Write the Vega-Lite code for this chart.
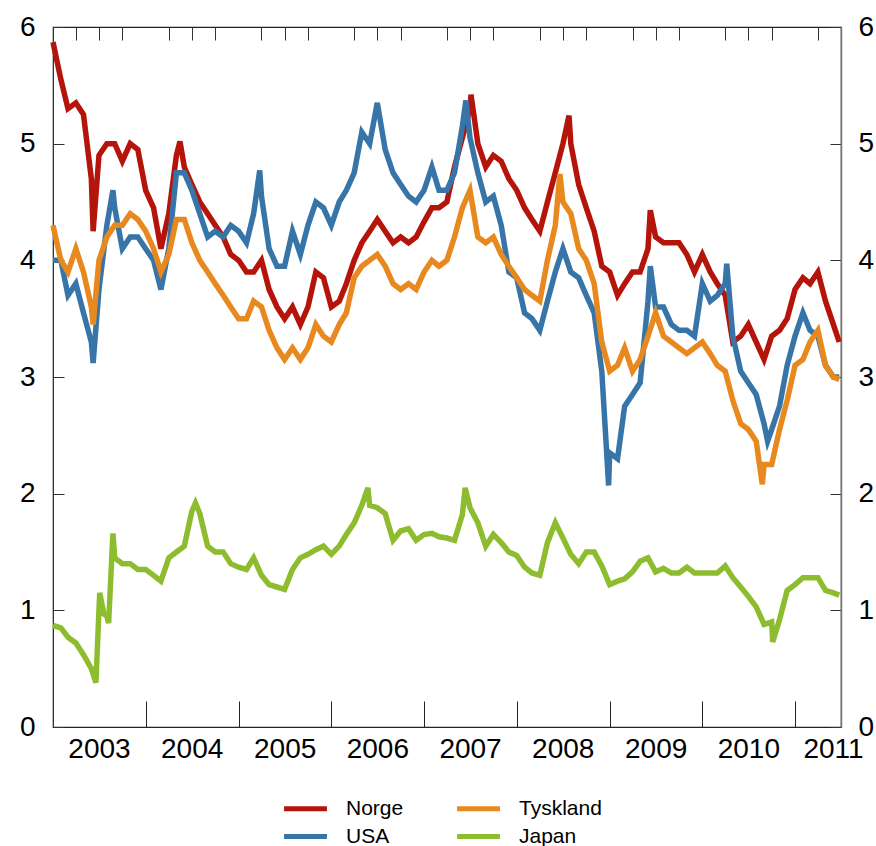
{
"$schema":"https://vega.github.io/schema/vega-lite/v6.json",
"width":788,"height":700,
"autosize":{"type":"none"},
"padding":{"left":53,"top":27,"right":35,"bottom":119},
"config":{"view":{"stroke":"#222","strokeWidth":1.2},"font":"Liberation Sans","axis":{"labelFont":"Liberation Sans","labelColor":"#000","grid":false,"title":null}},
"data":{"values":[
{"d":"2003-01-01","Norge":5.87,"USA":4.0,"Tyskland":4.3,"Japan":0.87},
{"d":"2003-02-01","Norge":5.55,"USA":4.0,"Tyskland":4.0,"Japan":0.85},
{"d":"2003-03-01","Norge":5.3,"USA":3.7,"Tyskland":3.9,"Japan":0.77},
{"d":"2003-04-01","Norge":5.35,"USA":3.8,"Tyskland":4.1,"Japan":0.72},
{"d":"2003-05-01","Norge":5.25,"USA":3.55,"Tyskland":3.9,"Japan":0.62},
{"d":"2003-06-01","Norge":4.7,"USA":3.3,"Tyskland":3.6,"Japan":0.5},
{"d":"2003-06-08","Norge":4.25,"USA":3.12,"Tyskland":3.45},
{"d":"2003-06-19","Japan":0.38},
{"d":"2003-07-01","Norge":4.9,"USA":3.75,"Tyskland":4.0,"Japan":1.0},
{"d":"2003-07-04","Japan":1.15},
{"d":"2003-07-20","Japan":0.97},
{"d":"2003-08-01","Norge":5.0,"USA":4.3,"Tyskland":4.2,"Japan":0.95},
{"d":"2003-08-08","Japan":0.89},
{"d":"2003-08-25","USA":4.6,"Japan":1.66},
{"d":"2003-09-01","Norge":5.0,"USA":4.45,"Tyskland":4.3,"Japan":1.45},
{"d":"2003-10-01","Norge":4.85,"USA":4.1,"Tyskland":4.3,"Japan":1.4},
{"d":"2003-11-01","Norge":5.0,"USA":4.2,"Tyskland":4.4,"Japan":1.4},
{"d":"2003-12-01","Norge":4.95,"USA":4.2,"Tyskland":4.35,"Japan":1.35},
{"d":"2004-01-01","Norge":4.6,"USA":4.1,"Tyskland":4.25,"Japan":1.35},
{"d":"2004-02-01","Norge":4.45,"USA":4.0,"Tyskland":4.1,"Japan":1.3},
{"d":"2004-03-01","Norge":4.1,"USA":3.75,"Tyskland":3.9,"Japan":1.25},
{"d":"2004-04-01","Norge":4.4,"USA":4.1,"Tyskland":4.05,"Japan":1.45},
{"d":"2004-05-01","Norge":4.9,"USA":4.75,"Tyskland":4.35,"Japan":1.5},
{"d":"2004-05-15","Norge":5.02},
{"d":"2004-06-01","Norge":4.8,"USA":4.75,"Tyskland":4.35,"Japan":1.55},
{"d":"2004-07-01","Norge":4.65,"USA":4.6,"Tyskland":4.15,"Japan":1.85},
{"d":"2004-07-15","Japan":1.92},
{"d":"2004-08-01","Norge":4.5,"USA":4.4,"Tyskland":4.0,"Japan":1.83},
{"d":"2004-09-01","Norge":4.4,"USA":4.2,"Tyskland":3.9,"Japan":1.55},
{"d":"2004-10-01","Norge":4.3,"USA":4.25,"Tyskland":3.8,"Japan":1.5},
{"d":"2004-11-01","Norge":4.2,"USA":4.2,"Tyskland":3.7,"Japan":1.5},
{"d":"2004-12-01","Norge":4.05,"USA":4.3,"Tyskland":3.6,"Japan":1.4},
{"d":"2005-01-01","Norge":4.0,"USA":4.25,"Tyskland":3.5,"Japan":1.37},
{"d":"2005-02-01","Norge":3.9,"USA":4.15,"Tyskland":3.5,"Japan":1.35},
{"d":"2005-03-01","Norge":3.9,"USA":4.4,"Tyskland":3.65,"Japan":1.45},
{"d":"2005-03-25","USA":4.77},
{"d":"2005-04-01","Norge":4.0,"USA":4.55,"Tyskland":3.6,"Japan":1.3},
{"d":"2005-05-01","Norge":3.75,"USA":4.1,"Tyskland":3.4,"Japan":1.22},
{"d":"2005-06-01","Norge":3.6,"USA":3.95,"Tyskland":3.25,"Japan":1.2},
{"d":"2005-07-01","Norge":3.5,"USA":3.95,"Tyskland":3.15,"Japan":1.18},
{"d":"2005-08-01","Norge":3.6,"USA":4.25,"Tyskland":3.25,"Japan":1.35},
{"d":"2005-09-01","Norge":3.45,"USA":4.05,"Tyskland":3.15,"Japan":1.45},
{"d":"2005-10-01","Norge":3.6,"USA":4.3,"Tyskland":3.25,"Japan":1.48},
{"d":"2005-11-01","Norge":3.9,"USA":4.5,"Tyskland":3.45,"Japan":1.52},
{"d":"2005-12-01","Norge":3.85,"USA":4.45,"Tyskland":3.35,"Japan":1.55},
{"d":"2006-01-01","Norge":3.6,"USA":4.3,"Tyskland":3.3,"Japan":1.48},
{"d":"2006-02-01","Norge":3.65,"USA":4.5,"Tyskland":3.45,"Japan":1.55},
{"d":"2006-03-01","Norge":3.8,"USA":4.6,"Tyskland":3.55,"Japan":1.65},
{"d":"2006-04-01","Norge":4.0,"USA":4.75,"Tyskland":3.85,"Japan":1.75},
{"d":"2006-05-01","Norge":4.15,"USA":5.1,"Tyskland":3.95,"Japan":1.9},
{"d":"2006-05-25","Japan":2.05},
{"d":"2006-06-01","Norge":4.25,"USA":5.0,"Tyskland":4.0,"Japan":1.9},
{"d":"2006-07-01","Norge":4.35,"USA":5.35,"Tyskland":4.05,"Japan":1.88},
{"d":"2006-08-01","Norge":4.25,"USA":4.95,"Tyskland":3.95,"Japan":1.83},
{"d":"2006-09-01","Norge":4.15,"USA":4.75,"Tyskland":3.8,"Japan":1.6},
{"d":"2006-10-01","Norge":4.2,"USA":4.65,"Tyskland":3.75,"Japan":1.68},
{"d":"2006-11-01","Norge":4.15,"USA":4.55,"Tyskland":3.8,"Japan":1.7},
{"d":"2006-12-01","Norge":4.2,"USA":4.5,"Tyskland":3.75,"Japan":1.6},
{"d":"2007-01-01","Norge":4.33,"USA":4.6,"Tyskland":3.9,"Japan":1.65},
{"d":"2007-02-01","Norge":4.45,"USA":4.8,"Tyskland":4.0,"Japan":1.66},
{"d":"2007-03-01","Norge":4.45,"USA":4.6,"Tyskland":3.95,"Japan":1.63},
{"d":"2007-04-01","Norge":4.5,"USA":4.6,"Tyskland":4.0,"Japan":1.62},
{"d":"2007-05-01","Norge":4.8,"USA":4.75,"Tyskland":4.2,"Japan":1.6},
{"d":"2007-06-01","Norge":5.05,"USA":5.15,"Tyskland":4.45,"Japan":1.82},
{"d":"2007-06-12","Japan":2.05},
{"d":"2007-06-15","USA":5.37},
{"d":"2007-07-01","Norge":5.3,"USA":5.05,"Tyskland":4.6,"Japan":1.88},
{"d":"2007-07-05","Norge":5.42},
{"d":"2007-08-01","Norge":5.0,"USA":4.75,"Tyskland":4.2,"Japan":1.75},
{"d":"2007-09-01","Norge":4.8,"USA":4.5,"Tyskland":4.15,"Japan":1.55},
{"d":"2007-10-01","Norge":4.9,"USA":4.55,"Tyskland":4.2,"Japan":1.65},
{"d":"2007-11-01","Norge":4.85,"USA":4.3,"Tyskland":4.05,"Japan":1.58},
{"d":"2007-12-01","Norge":4.7,"USA":3.9,"Tyskland":3.95,"Japan":1.5},
{"d":"2008-01-01","Norge":4.6,"USA":3.85,"Tyskland":3.85,"Japan":1.47},
{"d":"2008-02-01","Norge":4.45,"USA":3.55,"Tyskland":3.75,"Japan":1.37},
{"d":"2008-03-01","Norge":4.35,"USA":3.5,"Tyskland":3.7,"Japan":1.32},
{"d":"2008-04-01","Norge":4.25,"USA":3.4,"Tyskland":3.65,"Japan":1.3},
{"d":"2008-05-01","Norge":4.5,"USA":3.65,"Tyskland":4.0,"Japan":1.58},
{"d":"2008-06-01","Norge":4.75,"USA":3.9,"Tyskland":4.3,"Japan":1.75},
{"d":"2008-06-19","Tyskland":4.74},
{"d":"2008-07-01","Norge":5.0,"USA":4.1,"Tyskland":4.5,"Japan":1.62},
{"d":"2008-07-25","Norge":5.24},
{"d":"2008-08-01","Norge":5.0,"USA":3.9,"Tyskland":4.4,"Japan":1.48},
{"d":"2008-09-01","Norge":4.65,"USA":3.85,"Tyskland":4.1,"Japan":1.4},
{"d":"2008-10-01","Norge":4.45,"USA":3.7,"Tyskland":4.0,"Japan":1.5},
{"d":"2008-11-01","Norge":4.25,"USA":3.55,"Tyskland":3.8,"Japan":1.5},
{"d":"2008-12-01","Norge":3.95,"USA":3.05,"Tyskland":3.3,"Japan":1.38},
{"d":"2008-12-28","USA":2.07},
{"d":"2009-01-01","Norge":3.9,"USA":2.35,"Tyskland":3.05,"Japan":1.22},
{"d":"2009-02-01","Norge":3.7,"USA":2.3,"Tyskland":3.1,"Japan":1.25},
{"d":"2009-03-01","Norge":3.8,"USA":2.75,"Tyskland":3.25,"Japan":1.27},
{"d":"2009-04-01","Norge":3.9,"USA":2.85,"Tyskland":3.05,"Japan":1.33},
{"d":"2009-05-01","Norge":3.9,"USA":2.95,"Tyskland":3.15,"Japan":1.42},
{"d":"2009-06-01","Norge":4.1,"USA":3.65,"Tyskland":3.35,"Japan":1.45},
{"d":"2009-06-10","Norge":4.43,"USA":3.95},
{"d":"2009-07-01","Norge":4.2,"USA":3.6,"Tyskland":3.55,"Japan":1.33},
{"d":"2009-08-01","Norge":4.15,"USA":3.6,"Tyskland":3.35,"Japan":1.36},
{"d":"2009-09-01","Norge":4.15,"USA":3.45,"Tyskland":3.3,"Japan":1.32},
{"d":"2009-10-01","Norge":4.15,"USA":3.4,"Tyskland":3.25,"Japan":1.32},
{"d":"2009-11-01","Norge":4.05,"USA":3.4,"Tyskland":3.2,"Japan":1.37},
{"d":"2009-12-01","Norge":3.9,"USA":3.35,"Tyskland":3.25,"Japan":1.32},
{"d":"2010-01-01","Norge":4.05,"USA":3.8,"Tyskland":3.3,"Japan":1.32},
{"d":"2010-02-01","Norge":3.9,"USA":3.65,"Tyskland":3.2,"Japan":1.32},
{"d":"2010-03-01","Norge":3.8,"USA":3.7,"Tyskland":3.1,"Japan":1.32},
{"d":"2010-04-01","Norge":3.7,"USA":3.8,"Tyskland":3.05,"Japan":1.38},
{"d":"2010-04-07","USA":3.97},
{"d":"2010-05-01","Norge":3.3,"USA":3.35,"Tyskland":2.8,"Japan":1.28},
{"d":"2010-06-01","Norge":3.35,"USA":3.05,"Tyskland":2.6,"Japan":1.2},
{"d":"2010-07-01","Norge":3.45,"USA":2.95,"Tyskland":2.55,"Japan":1.12},
{"d":"2010-08-01","Norge":3.3,"USA":2.85,"Tyskland":2.45,"Japan":1.03},
{"d":"2010-08-25","Tyskland":2.08},
{"d":"2010-09-01","Norge":3.15,"USA":2.6,"Tyskland":2.25,"Japan":0.88},
{"d":"2010-09-15","USA":2.45},
{"d":"2010-10-01","Norge":3.35,"USA":2.55,"Tyskland":2.25,"Japan":0.9},
{"d":"2010-10-05","Japan":0.73},
{"d":"2010-11-01","Norge":3.4,"USA":2.75,"Tyskland":2.55,"Japan":0.92},
{"d":"2010-12-01","Norge":3.5,"USA":3.1,"Tyskland":2.8,"Japan":1.17},
{"d":"2011-01-01","Norge":3.75,"USA":3.35,"Tyskland":3.1,"Japan":1.22},
{"d":"2011-02-01","Norge":3.85,"USA":3.55,"Tyskland":3.15,"Japan":1.28},
{"d":"2011-03-01","Norge":3.8,"USA":3.4,"Tyskland":3.3,"Japan":1.28},
{"d":"2011-04-01","Norge":3.9,"USA":3.35,"Tyskland":3.4,"Japan":1.28},
{"d":"2011-05-01","Norge":3.65,"USA":3.1,"Tyskland":3.1,"Japan":1.17},
{"d":"2011-06-01","Norge":3.45,"USA":3.0,"Tyskland":3.0,"Japan":1.15},
{"d":"2011-06-24","Norge":3.3,"USA":3.0,"Tyskland":2.98,"Japan":1.13}
]},
"transform":[{"fold":["Norge","USA","Tyskland","Japan"],"as":["land","rente"]},{"filter":"isValid(datum.rente)"}],
"layer":[
{"mark":{"type":"line","strokeWidth":5.5,"strokeJoin":"miter"},
 "encoding":{
  "x":{"field":"d","type":"temporal","scale":{"domain":[{"year":2003,"month":1,"date":1},{"year":2011,"month":7,"date":1}]},
   "axis":{"values":[{"year":2003,"month":1,"date":1},{"year":2004,"month":1,"date":1},{"year":2005,"month":1,"date":1},{"year":2006,"month":1,"date":1},{"year":2007,"month":1,"date":1},{"year":2008,"month":1,"date":1},{"year":2009,"month":1,"date":1},{"year":2010,"month":1,"date":1},{"year":2011,"month":1,"date":1}],
    "format":"%Y","labelOffset":{"condition":{"test":"year(datum.value)==2011","value":38},"value":46},"tickSize":-26,"tickColor":"#222","domainColor":"#222","labelFontSize":28,"labelPadding":34,"labelFlush":false,"labelOverlap":false}},
  "y":{"field":"rente","type":"quantitative","scale":{"domain":[0,6],"nice":false,"zero":true},
   "axis":{"orient":"left","values":[0,1,2,3,4,5,6],"tickSize":-11,"tickColor":"#333","domainColor":"#333","labelFontSize":28,"labelPadding":29}},
  "color":{"field":"land","type":"nominal","scale":{"domain":["Norge","Tyskland","USA","Japan"],"range":["#B5140A","#E8891F","#3775A8","#8DBD2F"]},
   "legend":{"orient":"none","legendX":242,"legendY":771,"direction":"horizontal","columns":2,"title":null,"symbolType":"M-3.9,0H3.9","symbolSize":121,"symbolStrokeWidth":5,"labelFontSize":21,"labelFont":"Liberation Sans","labelColor":"#000","labelOffset":30,"columnPadding":43,"rowPadding":6}}
 }},
{"mark":{"type":"line","opacity":0},
 "encoding":{
  "x":{"field":"d","type":"temporal","scale":{"domain":[{"year":2003,"month":1,"date":1},{"year":2011,"month":7,"date":1}]},
   "axis":{"values":[{"year":2003,"month":4,"date":1},{"year":2003,"month":7,"date":1},{"year":2003,"month":10,"date":1},{"year":2004,"month":4,"date":1},{"year":2004,"month":7,"date":1},{"year":2004,"month":10,"date":1},{"year":2005,"month":4,"date":1},{"year":2005,"month":7,"date":1},{"year":2005,"month":10,"date":1},{"year":2006,"month":4,"date":1},{"year":2006,"month":7,"date":1},{"year":2006,"month":10,"date":1},{"year":2007,"month":4,"date":1},{"year":2007,"month":7,"date":1},{"year":2007,"month":10,"date":1},{"year":2008,"month":4,"date":1},{"year":2008,"month":7,"date":1},{"year":2008,"month":10,"date":1},{"year":2009,"month":4,"date":1},{"year":2009,"month":7,"date":1},{"year":2009,"month":10,"date":1},{"year":2010,"month":4,"date":1},{"year":2010,"month":7,"date":1},{"year":2010,"month":10,"date":1},{"year":2011,"month":4,"date":1},{"year":2011,"month":7,"date":1}],
    "labels":false,"domain":false,"tickSize":-13,"tickColor":"#333"}},
  "y":{"field":"rente","type":"quantitative","scale":{"domain":[0,6],"nice":false},
   "axis":{"orient":"right","values":[0,1,2,3,4,5,6],"tickSize":-11,"tickColor":"#333","domainColor":"#777","domainWidth":1.5,"labelFontSize":28,"labelPadding":28}},
  "color":{"field":"land","type":"nominal","scale":{"domain":["Norge","Tyskland","USA","Japan"],"range":["#B5140A","#E8891F","#3775A8","#8DBD2F"]}}
 }}
],
"resolve":{"axis":{"x":"independent","y":"independent"}}
}
